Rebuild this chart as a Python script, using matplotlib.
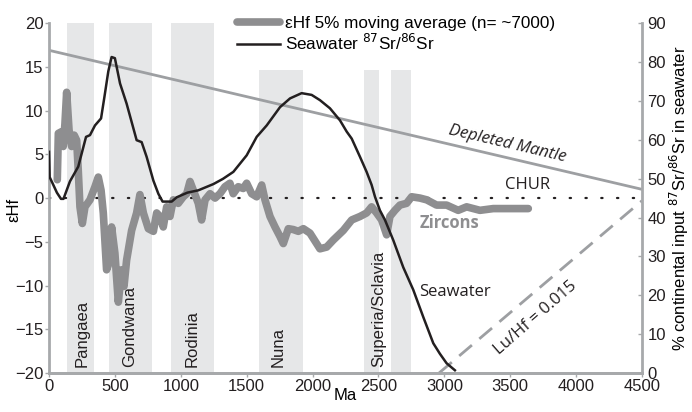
import matplotlib
matplotlib.use("Agg")
import matplotlib.pyplot as plt
from matplotlib.lines import Line2D

plt.rcParams['font.family'] = ['Liberation Sans', 'DejaVu Sans']

# zircon eHf 5% moving average (Ma, eHf)
zircon_age = [63, 71, 96, 108, 121, 134, 152, 172, 191, 210, 222, 235, 253, 273, 311,
              349, 374, 395, 412, 437, 463, 475, 500, 526, 551, 569, 589, 627, 665, 690,
              716, 754, 792, 817, 842, 867, 893, 918, 943, 981, 1019, 1045, 1070, 1095,
              1133, 1158, 1184, 1222, 1260, 1297, 1335, 1373, 1398, 1436, 1474, 1500,
              1538, 1576, 1614, 1639, 1677, 1715, 1753, 1778, 1816, 1854, 1892, 1930,
              1980, 2056, 2107, 2157, 2233, 2297, 2360, 2410, 2448, 2486, 2524, 2562,
              2587, 2625, 2663, 2713, 2752, 2815, 2866, 2941, 3017, 3105, 3169, 3270,
              3371, 3498, 3637]
zircon_ehf = [2.1, 7.4, 7.6, 5.9, 8.5, 12.1, 7.8, 5.9, 7.2, 6.6, 3.2, -1.0, -2.9, -1.0, -0.2,
              1.3, 2.4, 0.9, -1.7, -8.2, -7.1, -3.3, -6.3, -11.9, -8.2, -10.1, -7.1, -3.7, -1.7, 0.4,
              -1.7, -3.5, -3.8, -1.7, -2.1, -3.3, -1.0, -2.1, -0.2, -0.6, 0.15, 0.5, 1.9, 0.9,
              -0.6, -2.5, -0.2, 0.5, 0.0, 0.5, 1.3, 1.7, 0.5, 1.3, 1.1, 1.7,
              0.5, 0.15, 1.5, -0.2, -2.1, -3.3, -4.4, -5.2, -3.5, -3.6, -3.8, -3.5,
              -4.0, -5.8, -5.6, -4.8, -3.7, -2.5, -2.1, -1.7, -1.0, -1.7, -2.5, -4.2,
              -2.1, -1.4, -0.8, -0.6, 0.15, 0.0, -0.2, -0.8, -0.8, -1.4, -1.0, -1.4,
              -1.2, -1.2, -1.2]

# seawater 87Sr/86Sr as % continental input (right axis)
sr_age = [0, 5, 30, 60, 91, 110, 159, 222, 281, 311, 349, 395, 420, 450, 475, 500, 539,
          589, 665, 703, 741, 792, 830, 862, 931, 969, 1050, 1133, 1247, 1320, 1399, 1500,
          1576, 1652, 1753, 1829, 1917, 1993, 2056, 2132, 2208, 2259, 2297, 2360, 2410,
          2448, 2474, 2511, 2549, 2612, 2688, 2764, 2840, 2916, 2966, 3017, 3080]
sr_pct = [56.9, 50.4, 48.6, 46.4, 44.8, 44.8, 49.3, 53.1, 60.75, 61.2, 63.7, 65.5, 70.9,
          77.6, 81.3, 81.0, 74.5, 69.3, 59.9, 59.4, 55.6, 49.5, 46.1, 44.1, 44.1, 45.2,
          46.4, 47.0, 48.6, 49.95, 51.75, 56.0, 60.75, 63.7, 68.4, 70.65, 72.0, 71.55,
          70.2, 68.1, 65.0, 62.1, 60.3, 55.6, 51.75, 48.4, 45.3, 41.85, 39.4, 34.2, 27.2,
          21.4, 14.4, 7.65, 4.95, 2.5, 0.7]

# supercontinent intervals (Ma)
sc_names = ["Pangaea", "Gondwana", "Rodinia", "Nuna", "Superia/Sclavia"]
sc_start = [140, 455, 925, 1590, 2392, 2595]
sc_end = [340, 780, 1250, 1930, 2504, 2744]
sc_top = [20.3, 20.1, 20.1, 14.6, 14.6, 14.6]
sc_label_x = [248, 615, 1083, 1740, 2500]

# reference lines (Ma, eHf)
dm_age = [0, 4500]
dm_ehf = [16.9, 1.0]
chur_age = [0, 4500]
chur_ehf = [0, 0]
luhf_age = [2960, 4500]
luhf_ehf = [-20, -0.3]

spine_grey = '#a7a9ab'
band_grey = '#e6e7e8'
zircon_grey = '#8e8e90'

fig = plt.figure(figsize=(6.92, 4.12), dpi=100)
ax = fig.add_axes([0.0708, 0.0947, 0.857, 0.849])

for s, e, t in zip(sc_start, sc_end, sc_top):
    ax.fill_between([s, e], -20, t, color=band_grey, lw=0, zorder=0)
for name, x in zip(sc_names, sc_label_x):
    ax.text(x, -19.3, name, rotation=90, ha='center', va='bottom', fontsize=12,
            color='#231f20', zorder=1)

ax.plot(dm_age, dm_ehf, color='#9d9fa2', lw=2, zorder=2)
ax.plot(chur_age, chur_ehf, color='#231f20', lw=1.6, ls=(0, (0.6, 6.5)),
        dash_capstyle='round', zorder=2)
ax.plot(luhf_age, luhf_ehf, color='#9d9fa2', lw=2, ls=(0, (6, 3.5)), zorder=2)
ax.plot(zircon_age, zircon_ehf, color=zircon_grey, lw=5.5, solid_joinstyle='round',
        solid_capstyle='round', zorder=3)

ax.set_xlim(0, 4500)
ax.set_ylim(-20, 20)
ax.set_xticks(range(0, 4501, 500))
ax.set_yticks(range(-20, 21, 5))
ax.set_xlabel("Ma", fontsize=12, labelpad=-4)
ax.set_ylabel("\u03b5Hf", fontsize=12)
ax.yaxis.set_label_coords(-0.046, 0.466)

ax2 = ax.twinx()
ax2.plot(sr_age, sr_pct, color='#231f20', lw=1.8, zorder=4)
ax2.set_ylim(0, 90)
ax2.set_yticks(range(0, 91, 10))
ax2.set_ylabel("% continental input $^{87}$Sr/$^{86}$Sr in seawater", fontsize=12,
               labelpad=1)

for a in (ax, ax2):
    a.spines['top'].set_visible(False)
    for sp in ('left', 'right', 'bottom'):
        a.spines[sp].set_color(spine_grey)
        a.spines[sp].set_linewidth(2)
    a.tick_params(colors=spine_grey, labelcolor='#231f20', labelsize=12, length=3,
                  width=1, pad=1)
ax2.spines['left'].set_visible(False)
ax.spines['right'].set_visible(False)
ax2.tick_params(axis='y', direction='in', pad=4)

# annotations
ax.text(3475, 6.2, "Depleted Mantle", rotation=-13.2, ha='center', va='center',
        fontsize=12, style='italic', family='Open Sans', color='#231f20')
ax.text(3630, 1.5, "CHUR", ha='center', va='center', fontsize=12,
        family='Open Sans', color='#231f20')
ax.text(3040, -2.8, "Zircons", ha='center', va='center', fontsize=12,
        family='Open Sans', weight='bold', color=zircon_grey)
ax.text(3080, -10.7, "Seawater", ha='center', va='center', fontsize=12,
        family='Open Sans', color='#231f20')
ax.text(3690, -13.7, "Lu/Hf = 0.015", rotation=41, ha='center', va='center',
        fontsize=12, family='Open Sans', color='#231f20')

handles = [Line2D([], [], color=zircon_grey, lw=5.5, solid_capstyle='round'),
           Line2D([], [], color='#231f20', lw=1.8)]
labels = ["\u03b5Hf 5% moving average (n= ~7000)", "Seawater $^{87}$Sr/$^{86}$Sr"]
fig.legend(handles, labels, loc='upper left', bbox_to_anchor=(0.325, 0.99),
           frameon=False, fontsize=12.3, handlelength=2.5, handletextpad=0.3,
           labelspacing=0.1, borderpad=0.2)

fig.savefig("out.png", dpi=100)
